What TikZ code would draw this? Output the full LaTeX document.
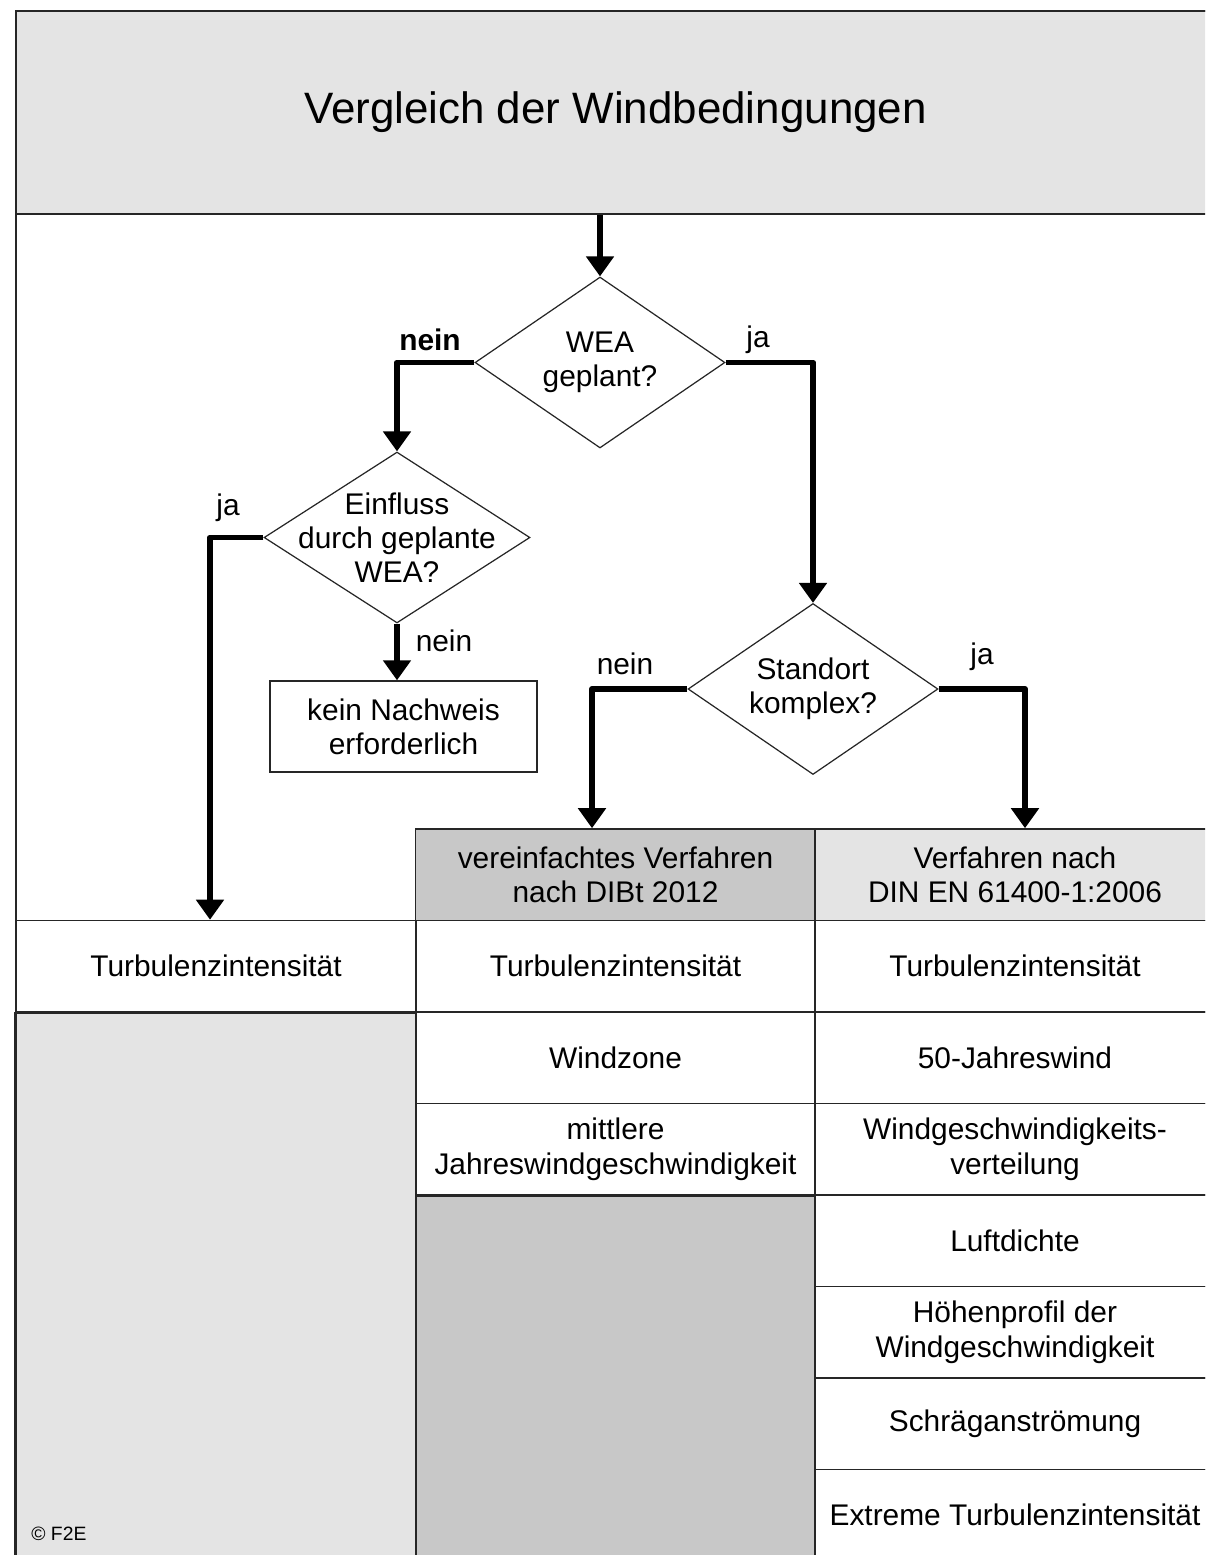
\documentclass[tikz,border=0pt]{standalone}
\usepackage{fontspec}
\setmainfont{Liberation Sans}
\usetikzlibrary{positioning, arrows.meta, shapes.geometric, calc}

\definecolor{lightgrey}{HTML}{E4E4E4}
\definecolor{midgrey}{HTML}{C8C8C8}
\definecolor{rule}{HTML}{262626}

\begin{document}
\begin{tikzpicture}[
    x=0.02cm, y=-0.02cm,
    font=\fontsize{17}{19.5}\selectfont,
    >={Triangle[length=4mm,width=5.4mm]},
]
% -- Styles --
\tikzset{
    frame/.style={draw=rule, line width=1.3pt},
    cell/.style={
        draw=rule, rectangle, line width=0.9pt,
        minimum width=8cm, minimum height=1.83cm,
        inner sep=0pt, align=center,
    },
    head-simple/.style={cell, fill=midgrey},
    head-full/.style={cell, fill=lightgrey},
    decision/.style={
        draw=rule, diamond, line width=0.7pt,
        inner sep=0pt, minimum width=5cm, minimum height=3.42cm,
    },
    qtext/.style={align=center},
    endbox/.style={draw=rule, rectangle, line width=0.8pt,
        minimum width=5.34cm, minimum height=1.82cm, align=center},
    flow/.style={->, line width=3.4pt, draw=black, line join=round},
    yesno/.style={inner sep=0pt},
}

\useasboundingbox (0,0) rectangle (1205,1555);
\clip (0,0) rectangle (1205,1555);

% -- Title --
\node[draw=rule, line width=1.3pt, fill=lightgrey, rectangle,
      minimum width=23.98cm, minimum height=4.06cm,
      font=\fontsize{25}{30}\selectfont] (title) at (615.5,112.5)
    {Vergleich der Windbedingungen};

% -- Decisions --
\node[decision, label={[qtext]center:WEA\\geplant?}] (wea) at (600,362.5) {};
\node[decision, minimum width=5.32cm,
      label={[qtext]center:Einfluss\\durch geplante\\WEA?}] (einfl) at (397,537.5) {};
\node[decision, label={[qtext]center:Standort\\komplex?}] (komplex) at (813,689) {};

\node[endbox] (kein) at (403.5,726.5) {kein Nachweis\\erforderlich};

% -- Table: header --
\node[head-simple] (simp) at (615.5,874.75) {vereinfachtes Verfahren\\nach DIBt 2012};
\node[head-full] (full) at (1015,874.75) {Verfahren nach\\DIN EN 61400-1:2006};

% -- Table: Turbulenzintensitaet row --
\node[cell] (ti1) at (216,966.25) {Turbulenzintensität};
\node[cell] (ti2) at (615.5,966.25) {Turbulenzintensität};
\node[cell] (ti3) at (1015,966.25) {Turbulenzintensität};

% -- Table: simplified column --
\node[cell] (wz) at (615.5,1057.75) {Windzone};
\node[cell] (mjw) at (615.5,1149.25) {mittlere\\Jahreswindgeschwindigkeit};
\draw[draw=rule, line width=0.9pt, fill=midgrey] (mjw.south west) rectangle (815,1561);

% -- Table: full column --
\node[cell] (jw) at (1015,1057.75) {50-Jahreswind};
\node[cell] (wv) at (1015,1149.25) {Windgeschwindigkeits-\\verteilung};
\node[cell] (ld) at (1015,1240.75) {Luftdichte};
\node[cell] (hp) at (1015,1332.25) {Höhenprofil der\\Windgeschwindigkeit};
\node[cell] (sa) at (1015,1423.75) {Schräganströmung};
\node[cell] (eti) at (1015,1515.25) {Extreme Turbulenzintensität};

% -- Table: first column, empty --
\draw[draw=rule, line width=0.9pt, fill=lightgrey] (ti1.south west) rectangle (416,1561);
\node[anchor=south west, inner sep=0pt, font=\fontsize{11}{13}\selectfont] (copy) at (31,1541) {© F2E};

% -- Flow arrows --
\draw[flow] (wea.north |- title.south) -- (wea.north);
\draw[flow] (wea.west) -| (einfl.north);
\draw[flow] (wea.east) -| (komplex.north);
\draw[flow] (einfl.west) -| ([xshift=-0.12cm]ti1.north);
\draw[flow] (einfl.south) -- (einfl.south |- kein.north);
\draw[flow] (komplex.west) -| ([xshift=-0.47cm]simp.north);
\draw[flow] (komplex.east) -| ([xshift=0.2cm]full.north);

% -- Branch labels --
\node[yesno, font=\fontsize{17}{19.5}\selectfont\bfseries] (wea-no) at (430,340) {nein};
\node[yesno] (wea-yes) at (758,340) {ja};
\node[yesno] (einfl-yes) at (228,508) {ja};
\node[yesno] (einfl-no) at (444,641) {nein};
\node[yesno] (komplex-no) at (625,664) {nein};
\node[yesno] (komplex-yes) at (982,657) {ja};

% -- Outer frame --
\draw[frame] (16,11) rectangle (1215,1561);

\end{tikzpicture}
\end{document}
